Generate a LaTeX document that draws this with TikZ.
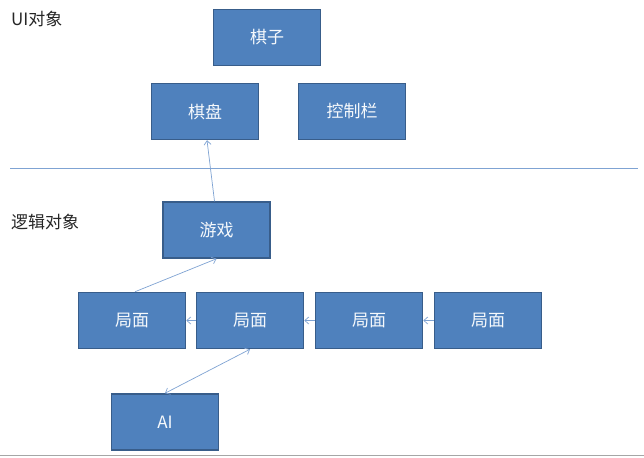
\documentclass[tikz,border=0pt]{standalone}
\usepackage{fontspec}
\setmainfont{Liberation Sans}
\newfontfamily\cjk{Noto Sans CJK SC}
\usetikzlibrary{arrows.meta,calc}
\definecolor{boxfill}{HTML}{4F81BD}
\definecolor{boxedge}{HTML}{385D8A}
\definecolor{linkc}{HTML}{7FA3D3}
\begin{document}
\begin{tikzpicture}[x=1pt,y=-1pt,
  obj/.style={draw=boxedge,line width=1.5pt,fill=boxfill,minimum width=107pt,minimum height=56pt,inner sep=0pt,text=white!95!boxfill,font=\cjk\fontsize{17}{19}\selectfont},
  link/.style={draw=linkc,line width=0.7pt,-{Straight Barb[length=4pt,width=7pt]}},
  lbl/.style={anchor=west,inner sep=0pt,font=\cjk\fontsize{17}{19}\selectfont,text=black!85}]
\useasboundingbox (0,0) rectangle (644,457);
\fill[white] (0,0) rectangle (644,457);
\node[obj] (qizi) at (267,37.5) {棋子};
\node[obj] (qipan) at (205,111.5) {棋盘};
\node[obj] (kongzhi) at (352,111.5) {控制栏};
\node[obj] (youxi) at (216.5,230) {游戏};
\node[obj] (jm1) at (132,320.5) {局面};
\node[obj] (jm2) at (250,320.5) {局面};
\node[obj] (jm3) at (369,320.5) {局面};
\node[obj] (jm4) at (488,320.5) {局面};
\node[obj] (ai) at (165,422) {AI};
\node[lbl] (ui) at (11,19) {UI对象};
\node[lbl] (lj) at (11,222) {逻辑对象};
\coordinate (l1) at (10,168);
\coordinate (l2) at (638,168);
\draw[linkc,line width=0.8pt] (l1) -- (l2);
\coordinate (b1) at (0,455.5);
\coordinate (b2) at (644,455.5);
\draw[gray!70,line width=1.2pt] (b1) -- (b2);
\draw[link] ($(youxi.north)+(-2,0)$) -- ($(qipan.south)+(2,0)$);
\draw[link] ($(jm1.north)+(3,0)$) -- (youxi.south);
\draw[link] (jm2.west) -- (jm1.east);
\draw[link] (jm3.west) -- (jm2.east);
\draw[link] (jm4.west) -- (jm3.east);
\draw[link,{Straight Barb[length=4pt,width=7pt]}-{Straight Barb[length=4pt,width=7pt]}] (jm2.south) -- (ai.north);
\end{tikzpicture}
\end{document}
